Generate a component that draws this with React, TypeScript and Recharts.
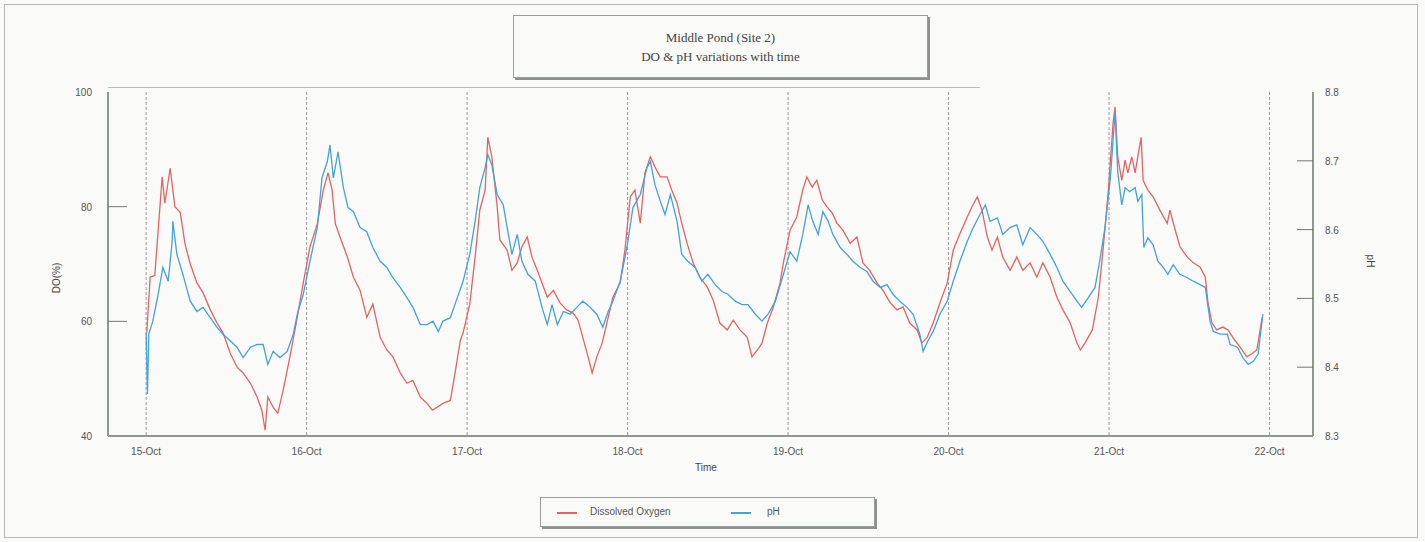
import React from 'react';
import { LineChart, Line, XAxis, YAxis, CartesianGrid } from 'recharts';

// hours since 15-Oct 00:00
const dayTicks = [0, 24, 48, 72, 96, 120, 144, 168];
const dayLabels = ['15-Oct', '16-Oct', '17-Oct', '18-Oct', '19-Oct', '20-Oct', '21-Oct', '22-Oct'];
const doTicks = [40, 60, 80, 100];
const phTicks = [8.3, 8.4, 8.5, 8.6, 8.7, 8.8];

// [hour, DO %]
const doReadings: [number, number][] = [
  [0.1, 58], [0.6, 67.7], [1.3, 68], [2.4, 85.2], [2.8, 80.6], [3.6, 86.7], [4.3, 80], [5.1, 79], [5.8, 73.6],
  [6.6, 70], [7.6, 66.7], [8.5, 65], [9.6, 62], [10.6, 59.7], [11.5, 58], [12.6, 54.4], [13.6, 52], [14.5, 51],
  [15.6, 49.2], [16.6, 46.8], [17.3, 44.5], [17.8, 41], [18.2, 46.8], [19.0, 45], [19.7, 44], [20.5, 48],
  [21.5, 53.8], [22.6, 60.7], [23.5, 66.7],
  [24.5, 73], [25.6, 77], [26.5, 82.9], [27.2, 85.9], [27.8, 83], [28.3, 77], [29.0, 74.7], [30.1, 71.2],
  [31.0, 67.7], [32.0, 65.4], [33.0, 60.7], [33.9, 63], [35.0, 57.2], [36.0, 55], [36.9, 53.8], [38.0, 51],
  [39.0, 49.2], [39.9, 49.7], [41.0, 46.8], [42.0, 45.7], [42.8, 44.5], [43.5, 45], [44.4, 45.7], [45.5, 46.2],
  [46.2, 51], [47.0, 56.7], [47.4, 58],
  [48.4, 63], [49.2, 71.2], [49.9, 79.4], [50.7, 82.9], [51.1, 92.1], [51.7, 88.7], [52.5, 80], [52.9, 74.2],
  [54.0, 72.4], [54.7, 68.9], [55.5, 70.2], [56.2, 73], [57.0, 74.7], [57.7, 71.2], [58.5, 68.9], [59.2, 66.7],
  [60.0, 64.2], [60.9, 65.4], [61.9, 63.2], [62.9, 62], [63.9, 61.4], [64.6, 60.2], [65.3, 57.2], [66.1, 53.8],
  [66.7, 51], [67.4, 53.8], [68.2, 56.2], [68.9, 59.7], [69.8, 64.2], [70.9, 66.7],
  [71.6, 72.4], [72.4, 81.7], [73.1, 82.9], [73.9, 77.1], [74.6, 85.9], [75.4, 88.7], [76.1, 86.9], [76.9, 85.2],
  [77.9, 85.2], [78.6, 82.9], [79.4, 80.6], [80.1, 77.1], [80.9, 73.6], [81.8, 70.2], [82.8, 67.7], [83.9, 66],
  [84.8, 63.7], [85.8, 59.7], [86.9, 58.5], [87.8, 60.2], [88.8, 58.5], [89.9, 57.2], [90.6, 53.8], [91.4, 55],
  [92.1, 56.2], [92.9, 59.7], [93.8, 62.5], [94.8, 66.7],
  [95.3, 70.2], [96.3, 75.9], [97.3, 78.2], [98.2, 82.9], [98.8, 85.2], [99.6, 83.4], [100.3, 84.6], [101.1, 81.2],
  [101.8, 80], [102.6, 78.9], [103.3, 77.1], [104.2, 75.9], [105.3, 73.6], [106.3, 74.7], [107.2, 70.2],
  [108.2, 68.9], [109.3, 66.7], [110.2, 65.4], [111.3, 63.2], [112.3, 62], [113.2, 62.5], [114.2, 59.7],
  [115.3, 58.5], [116.0, 56.2], [116.8, 57.2], [117.7, 59.7], [118.7, 63.2], [119.8, 66.7],
  [120.7, 72.4], [121.7, 75.3], [122.8, 78.2], [123.5, 80], [124.3, 81.7], [125.0, 79.4], [125.8, 74.7],
  [126.5, 72.4], [127.3, 74.7], [128.1, 71.2], [129.2, 68.9], [130.2, 71.2], [131.1, 68.9], [132.2, 70.2],
  [133.2, 67.7], [134.1, 70.2], [135.2, 67.7], [136.2, 64.2], [137.1, 62], [138.2, 59.7], [139.2, 56.2],
  [139.7, 55], [140.4, 56.2], [141.5, 58.5], [142.4, 64.2], [143.1, 72.4],
  [143.9, 82.9], [144.6, 94.6], [144.9, 97.4], [145.3, 88.7], [145.9, 84.6], [146.4, 88.1], [146.8, 85.9],
  [147.4, 88.7], [147.9, 85.9], [148.3, 88.7], [148.8, 92.1], [149.1, 84.6], [149.8, 82.9], [150.6, 81.7],
  [151.6, 79.4], [152.7, 77.1], [153.1, 79.4], [153.9, 75.9], [154.6, 73], [155.7, 71.2], [156.6, 70.2],
  [157.6, 69.5], [158.4, 67.7], [158.8, 63.2], [159.4, 59.7], [160.1, 58.5], [161.0, 59], [161.8, 58.5],
  [162.8, 56.7], [163.6, 55.5], [164.6, 53.8], [165.4, 54.4], [166.1, 55], [166.9, 60.7],
];

// [hour, pH]
const phReadings: [number, number][] = [
  [0, 8.45], [0.2, 8.361], [0.4, 8.448], [1.0, 8.467], [1.8, 8.506], [2.5, 8.545], [3.3, 8.525], [3.9, 8.583],
  [4.0, 8.612], [4.6, 8.564], [5.5, 8.535], [6.6, 8.496], [7.6, 8.481], [8.5, 8.487], [9.6, 8.472], [10.6, 8.458],
  [11.5, 8.448], [12.6, 8.438], [13.6, 8.429], [14.5, 8.414], [15.6, 8.429], [16.6, 8.433], [17.5, 8.433],
  [18.2, 8.404], [19.0, 8.423], [20.0, 8.414], [21.1, 8.423], [22.0, 8.448], [22.7, 8.481], [23.5, 8.506],
  [24.5, 8.554], [25.6, 8.603], [26.3, 8.675], [27.1, 8.699], [27.5, 8.723], [28.0, 8.675], [28.7, 8.713],
  [29.5, 8.661], [30.2, 8.632], [31.0, 8.626], [32.0, 8.603], [33.0, 8.597], [33.9, 8.574], [35.0, 8.554],
  [36.0, 8.545], [36.9, 8.53], [38.0, 8.516], [39.0, 8.501], [39.9, 8.487], [41.0, 8.462], [42.0, 8.462],
  [42.9, 8.467], [43.7, 8.452], [44.4, 8.467], [45.5, 8.472], [46.5, 8.5], [47.4, 8.525],
  [48.4, 8.564], [49.2, 8.612], [49.9, 8.661], [50.7, 8.69], [51.1, 8.709], [51.7, 8.694], [52.5, 8.651],
  [53.4, 8.636], [54.0, 8.603], [54.7, 8.564], [55.5, 8.593], [56.2, 8.554], [57.1, 8.535], [58.2, 8.525],
  [59.2, 8.487], [60.0, 8.462], [60.7, 8.491], [61.5, 8.462], [62.4, 8.481], [63.4, 8.477], [64.4, 8.487],
  [65.3, 8.496], [66.4, 8.487], [67.4, 8.477], [68.3, 8.458], [69.1, 8.481], [69.8, 8.496], [70.9, 8.525],
  [71.9, 8.574], [72.8, 8.632], [73.9, 8.651], [74.9, 8.69], [75.4, 8.699], [76.1, 8.665], [76.9, 8.641],
  [77.6, 8.622], [78.4, 8.651], [79.4, 8.612], [80.1, 8.564], [81.0, 8.554], [82.1, 8.545], [83.1, 8.525],
  [84.0, 8.535], [85.1, 8.52], [86.1, 8.51], [87.0, 8.506], [88.1, 8.496], [89.1, 8.491], [90.0, 8.491],
  [91.1, 8.477], [92.1, 8.467], [93.0, 8.477], [94.1, 8.496],
  [95.3, 8.535], [96.3, 8.568], [97.3, 8.554], [98.2, 8.593], [99.0, 8.636], [99.7, 8.612], [100.5, 8.593],
  [101.2, 8.626], [102.0, 8.612], [102.7, 8.593], [103.8, 8.574], [104.8, 8.564], [105.7, 8.554], [106.8, 8.545],
  [107.8, 8.539], [108.7, 8.525], [109.8, 8.516], [110.8, 8.52], [111.7, 8.506], [112.7, 8.496], [113.8, 8.487],
  [114.7, 8.477], [115.7, 8.448], [116.2, 8.423], [116.9, 8.438], [117.7, 8.452], [118.7, 8.477], [119.8, 8.496],
  [120.7, 8.525], [121.7, 8.554], [122.8, 8.583], [123.7, 8.603], [124.7, 8.622], [125.5, 8.636], [126.2, 8.612],
  [127.3, 8.617], [128.1, 8.593], [129.2, 8.603], [130.2, 8.607], [131.1, 8.578], [132.2, 8.603], [133.2, 8.593],
  [134.1, 8.583], [135.2, 8.564], [136.2, 8.545], [137.1, 8.525], [138.2, 8.51], [139.2, 8.496], [139.9, 8.487],
  [140.9, 8.501], [141.9, 8.516], [142.6, 8.554], [143.4, 8.603],
  [144.2, 8.675], [144.9, 8.771], [145.3, 8.684], [145.9, 8.636], [146.4, 8.661], [147.1, 8.655], [147.9, 8.661],
  [148.3, 8.641], [148.9, 8.651], [149.2, 8.574], [149.8, 8.588], [150.6, 8.578], [151.3, 8.554], [152.1, 8.545],
  [152.8, 8.535], [153.6, 8.549], [154.6, 8.535], [155.7, 8.53], [156.6, 8.525], [157.6, 8.52], [158.4, 8.516],
  [159.1, 8.467], [159.6, 8.452], [160.6, 8.448], [161.7, 8.448], [162.1, 8.433], [163.2, 8.429], [164.0, 8.414],
  [164.8, 8.404], [165.6, 8.409], [166.3, 8.419], [167.0, 8.477],
];

const W = 1425;
const H = 542;
const PLOT_LEFT = 108;
const PLOT_RIGHT = 1313;
const PLOT_TOP = 92;
const PLOT_BOTTOM = 436;
const AXIS_W = 60;
const XAXIS_H = 30;

const doData = doReadings.map(([t, v]) => ({ t, v }));
const phData = phReadings.map(([t, v]) => ({ t, v }));

const AXIS_COLOR = '#8d9890';
const TEXT_COLOR = '#555';
const SANS = '"Liberation Sans", Arial, sans-serif';
const SERIF = '"Liberation Serif", "Times New Roman", serif';

const LeftTick = (props: any) => {
  const { y, payload } = props;
  const inner = payload.value === 60 || payload.value === 80;
  return (
    <g>
      <text x={PLOT_LEFT - 16} y={y} dy={4} textAnchor="end" fontSize={10} fontFamily={SANS} fill={TEXT_COLOR}>
        {payload.value}
      </text>
      {inner && <line x1={PLOT_LEFT} x2={PLOT_LEFT + 19} y1={y} y2={y} stroke="#777" />}
    </g>
  );
};

const RightTick = (props: any) => {
  const { y, payload } = props;
  const inner = payload.value > 8.35 && payload.value < 8.75;
  return (
    <g>
      <text x={PLOT_RIGHT + 12} y={y} dy={4} textAnchor="start" fontSize={10} fontFamily={SANS} fill={TEXT_COLOR}>
        {payload.value.toFixed(1)}
      </text>
      {inner && <line x1={PLOT_RIGHT - 16} x2={PLOT_RIGHT} y1={y} y2={y} stroke="#777" />}
    </g>
  );
};

const BottomTick = (props: any) => {
  const { x, payload } = props;
  const i = dayTicks.indexOf(payload.value);
  return (
    <text x={x} y={PLOT_BOTTOM + 19} textAnchor="middle" fontSize={10} fontFamily={SANS} fill={TEXT_COLOR}>
      {dayLabels[i]}
    </text>
  );
};

export default function App() {
  return (
    <div style={{ position: 'absolute', left: 0, top: 0, width: W, height: H, background: '#fafaf9', overflow: 'hidden' }}>
      {/* outer frame */}
      <div style={{ position: 'absolute', left: 4, top: 4, width: 1412, height: 532, border: '1px solid #b4b8b4' }} />
      {/* top rule under the title */}
      <div style={{ position: 'absolute', left: PLOT_LEFT, top: 87, width: 872, height: 1, background: '#b8bcb8' }} />

      <LineChart
        width={W}
        height={H}
        margin={{ top: PLOT_TOP, left: PLOT_LEFT - AXIS_W, right: W - PLOT_RIGHT - AXIS_W, bottom: H - PLOT_BOTTOM - XAXIS_H }}
        style={{ position: 'absolute', left: 0, top: 0 }}
      >
        <CartesianGrid xAxisId="t" yAxisId="do" horizontal={false} stroke="#9a9a9a" strokeDasharray="3 2" />
        <XAxis
          xAxisId="t"
          dataKey="t"
          type="number"
          domain={[-5.7, 174.5]}
          ticks={dayTicks}
          tick={<BottomTick />}
          tickLine={false}
          axisLine={{ stroke: AXIS_COLOR, strokeWidth: 2 }}
          height={XAXIS_H}
          allowDataOverflow
        />
        <YAxis
          yAxisId="do"
          orientation="left"
          domain={[40, 100]}
          ticks={doTicks}
          tick={<LeftTick />}
          tickLine={false}
          axisLine={{ stroke: AXIS_COLOR, strokeWidth: 2 }}
          width={AXIS_W}
          interval={0}
        />
        <YAxis
          yAxisId="ph"
          orientation="right"
          domain={[8.3, 8.8]}
          ticks={phTicks}
          tick={<RightTick />}
          tickLine={false}
          axisLine={{ stroke: AXIS_COLOR, strokeWidth: 2 }}
          width={AXIS_W}
          interval={0}
        />
        <Line
          xAxisId="t"
          yAxisId="do"
          data={doData}
          dataKey="v"
          type="linear"
          stroke="#e8625f"
          strokeWidth={1.3}
          dot={false}
          isAnimationActive={false}
        />
        <Line
          xAxisId="t"
          yAxisId="ph"
          data={phData}
          dataKey="v"
          type="linear"
          stroke="#42a2dc"
          strokeWidth={1.3}
          dot={false}
          isAnimationActive={false}
        />
      </LineChart>

      {/* axis titles */}
      <div style={{ position: 'absolute', left: 56, top: 278, transform: 'translate(-50%, -50%) rotate(-90deg)', fontFamily: SANS, fontSize: 10, color: '#444', whiteSpace: 'nowrap' }}>
        DO(%)
      </div>
      <div style={{ position: 'absolute', left: 1370, top: 261, transform: 'translate(-50%, -50%) rotate(90deg)', fontFamily: SANS, fontSize: 10, color: '#444', whiteSpace: 'nowrap' }}>
        pH
      </div>
      <div style={{ position: 'absolute', left: 706, top: 467, transform: 'translate(-50%, -50%)', fontFamily: SANS, fontSize: 10, color: '#444' }}>
        Time
      </div>

      {/* title box */}
      <div
        style={{
          position: 'absolute', left: 513, top: 15, width: 415, height: 63,
          border: '1px solid #9a9e9a', boxShadow: '2px 2px 0 #8d918d', background: '#fafaf9',
          fontFamily: SERIF, fontSize: 13, color: '#444', textAlign: 'center', lineHeight: '19px',
          boxSizing: 'border-box', paddingTop: 12,
        }}
      >
        <div>Middle Pond (Site 2)</div>
        <div>DO &amp; pH variations with time</div>
      </div>

      {/* legend */}
      <div
        style={{
          position: 'absolute', left: 540, top: 497, width: 335, height: 30,
          border: '1px solid #9a9e9a', boxShadow: '2px 2px 0 #8d918d', background: '#fafaf9',
          boxSizing: 'border-box', fontFamily: SANS, fontSize: 10, color: '#555',
        }}
      >
        <div style={{ position: 'absolute', left: 16, top: 14, width: 20, height: 1.5, background: '#e8625f' }} />
        <div style={{ position: 'absolute', left: 49, top: 8 }}>Dissolved Oxygen</div>
        <div style={{ position: 'absolute', left: 190, top: 14, width: 20, height: 1.5, background: '#42a2dc' }} />
        <div style={{ position: 'absolute', left: 226, top: 8 }}>pH</div>
      </div>
    </div>
  );
}
